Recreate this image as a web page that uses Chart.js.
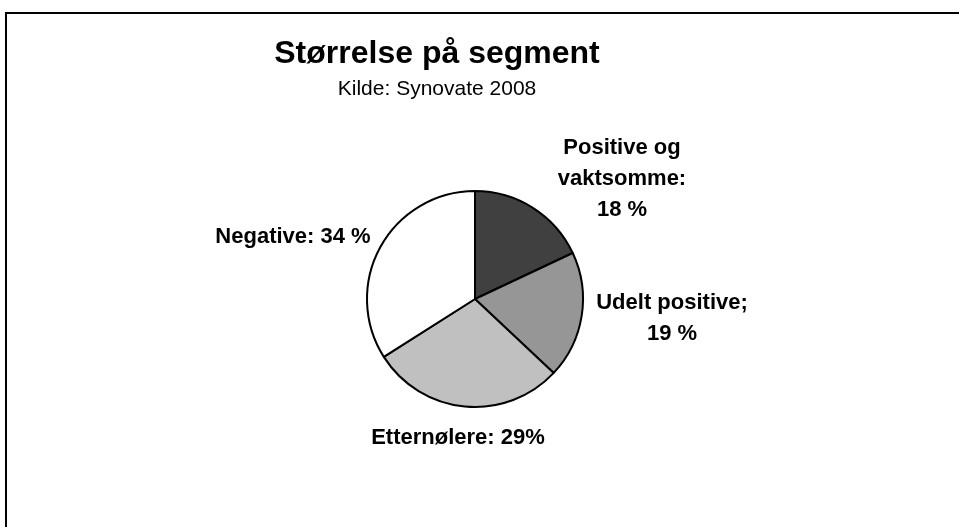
<!DOCTYPE html>
<html>
<head>
<meta charset="utf-8">
<title>Størrelse på segment</title>
<script src="https://cdn.jsdelivr.net/npm/chart.js@4"></script>
<style>
  html, body { margin: 0; padding: 0; background: #fff; overflow: hidden; }
  #wrap { position: relative; width: 959px; height: 527px; }
</style>
</head>
<body>
<div id="wrap"><canvas id="myChart" width="959" height="527"></canvas></div>
<script>
"use strict";

// Data
const segments = ["Positive og vaktsomme", "Udelt positive", "Etternølere", "Negative"];
const shares = [18, 19, 29, 34];
const sliceColors = ["#404040", "#969696", "#C0C0C0", "#FFFFFF"];
// label text as printed next to each slice (lines)
const dataLabels = [
  ["Positive og", "vaktsomme:", shares[0] + " %"],
  ["Udelt positive;", shares[1] + " %"],
  ["Etternølere: " + shares[2] + "%"],
  ["Negative: " + shares[3] + " %"]
];
const titleText = "Størrelse på segment";
const subtitleText = "Kilde: Synovate 2008";

// where each label sits, relative to the pie centre (x centre, first baseline)
const labelOffsets = [[147, -145], [197, 10], [-17, 145], [-182, -56]];
const lineHeight = 31;

const fontFamily = '"Liberation Sans", Arial, sans-serif';

// Frame, title, subtitle and slice labels
const decorations = {
  id: "decorations",
  beforeDraw(chart) {
    const ctx = chart.ctx;
    ctx.save();
    ctx.fillStyle = "#000";
    ctx.fillRect(5, 12, 960, 2);
    ctx.fillRect(5, 12, 2, 520);
    ctx.restore();
  },
  afterDraw(chart) {
    const ctx = chart.ctx;
    ctx.save();
    ctx.fillStyle = "#000";
    ctx.textAlign = "center";
    ctx.textBaseline = "alphabetic";

    ctx.font = "bold 32px " + fontFamily;
    ctx.fillText(titleText, 437, 63);
    ctx.font = "21px " + fontFamily;
    ctx.fillText(subtitleText, 437, 95);

    const arc = chart.getDatasetMeta(0).data[0];
    const cx = arc.x;
    const cy = arc.y;
    ctx.font = "bold 22px " + fontFamily;
    dataLabels.forEach((lines, i) => {
      const [dx, dy] = labelOffsets[i];
      lines.forEach((line, j) => {
        ctx.fillText(line, cx + dx, cy + dy + j * lineHeight);
      });
    });
    ctx.restore();
  }
};

const ctx = document.getElementById("myChart").getContext("2d");

new Chart(ctx, {
  type: "pie",
  data: {
    labels: segments,
    datasets: [
      {
        data: shares,
        backgroundColor: sliceColors,
        borderColor: "#000",
        borderWidth: 2,
        hoverOffset: 0
      }
    ]
  },
  options: {
    responsive: false,
    animation: false,
    events: [],
    layout: {
      padding: { left: 366, right: 375, top: 190, bottom: 119 }
    },
    plugins: {
      legend: { display: false },
      title: { display: false },
      tooltip: { enabled: false }
    }
  },
  plugins: [decorations]
});
</script>
</body>
</html>
